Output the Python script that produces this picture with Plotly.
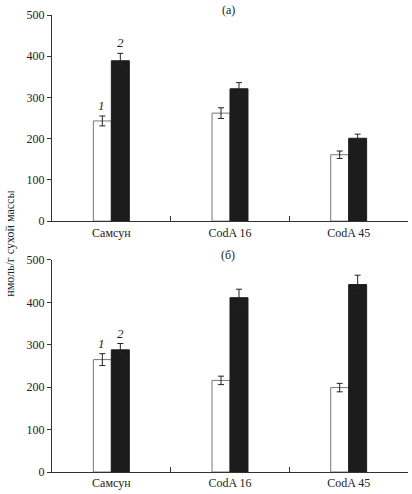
import plotly.graph_objects as go
from plotly.subplots import make_subplots

# данные
lines = ['Самсун', 'CodA 16', 'CodA 45']

# (а)
a_white = [243, 262, 161]
a_white_err = [12, 13, 9]
a_black = [389, 321, 201]
a_black_err = [18, 15, 10]

# (б)
b_white = [265, 216, 199]
b_white_err = [14, 10, 10]
b_black = [288, 411, 442]
b_black_err = [15, 20, 22]

serif = 'Liberation Serif, Times New Roman, serif'

fig = make_subplots(rows=2, cols=1, vertical_spacing=0.085)

panels = [(a_white, a_white_err, a_black, a_black_err),
          (b_white, b_white_err, b_black, b_black_err)]
for i, (w, we, b, be) in enumerate(panels):
    row = i + 1
    fig.add_trace(go.Bar(x=lines, y=w, name='1',
                         marker=dict(color='white', line=dict(color='#777777', width=1)),
                         error_y=dict(type='data', array=we, color='#222222', thickness=1, width=3)),
                  row=row, col=1)
    fig.add_trace(go.Bar(x=lines, y=b, name='2',
                         marker=dict(color='#1c1c1c', line=dict(color='#1c1c1c', width=1)),
                         error_y=dict(type='data', array=be, color='#222222', thickness=1, width=3)),
                  row=row, col=1)
    # подписи 1 и 2 над первой парой столбцов
    xref = 'x' if row == 1 else 'x2'
    yref = 'y' if row == 1 else 'y2'
    fig.add_annotation(x=lines[0], y=w[0] + we[0], xref=xref, yref=yref, text='<i>1</i>',
                       showarrow=False, xshift=-10, yanchor='bottom', yshift=1,
                       font=dict(family=serif, size=13, color='#222222'))
    fig.add_annotation(x=lines[0], y=b[0] + be[0], xref=xref, yref=yref, text='<i>2</i>',
                       showarrow=False, xshift=9, yanchor='bottom', yshift=1,
                       font=dict(family=serif, size=13, color='#222222'))

fig.update_yaxes(range=[0, 500], tickvals=[0, 100, 200, 300, 400, 500],
                 showline=True, linecolor='#333333', linewidth=1,
                 ticks='outside', ticklen=4, tickcolor='#333333',
                 showgrid=False, zeroline=False,
                 tickfont=dict(family=serif, size=12, color='#222222'))
fig.update_xaxes(showline=True, linecolor='#333333', linewidth=1,
                 ticks='inside', tickson='boundaries', ticklen=5, tickcolor='#333333',
                 showgrid=False,
                 tickfont=dict(family=serif, size=12, color='#222222'))

fig.update_yaxes(domain=[0.549, 1.0], row=1, col=1)
fig.update_yaxes(domain=[0.0, 0.464], row=2, col=1)

fig.add_annotation(text='(а)', xref='paper', yref='paper', x=0.495, y=1.0,
                   yanchor='middle', showarrow=False, yshift=5,
                   font=dict(family=serif, size=12, color='#222222'))
fig.add_annotation(text='(б)', xref='paper', yref='paper', x=0.495, y=0.464,
                   yanchor='middle', showarrow=False, yshift=5,
                   font=dict(family=serif, size=12, color='#222222'))
fig.add_annotation(text='нмоль/г сухой массы', xref='paper', yref='paper',
                   x=-0.12, y=0.5, textangle=-90, showarrow=False,
                   xanchor='center', yanchor='middle',
                   font=dict(family=serif, size=12, color='#222222'))

fig.update_layout(width=412, height=494,
                  margin=dict(l=52, r=4, t=15, b=16),
                  barmode='group', bargap=0.697, bargroupgap=0,
                  showlegend=False,
                  plot_bgcolor='white', paper_bgcolor='white')

# убрать отступ страницы, чтобы рисунок лёг ровно в окно
fig.write_html('out.html', config={'displayModeBar': False},
               post_script="document.body.style.margin='0';")
